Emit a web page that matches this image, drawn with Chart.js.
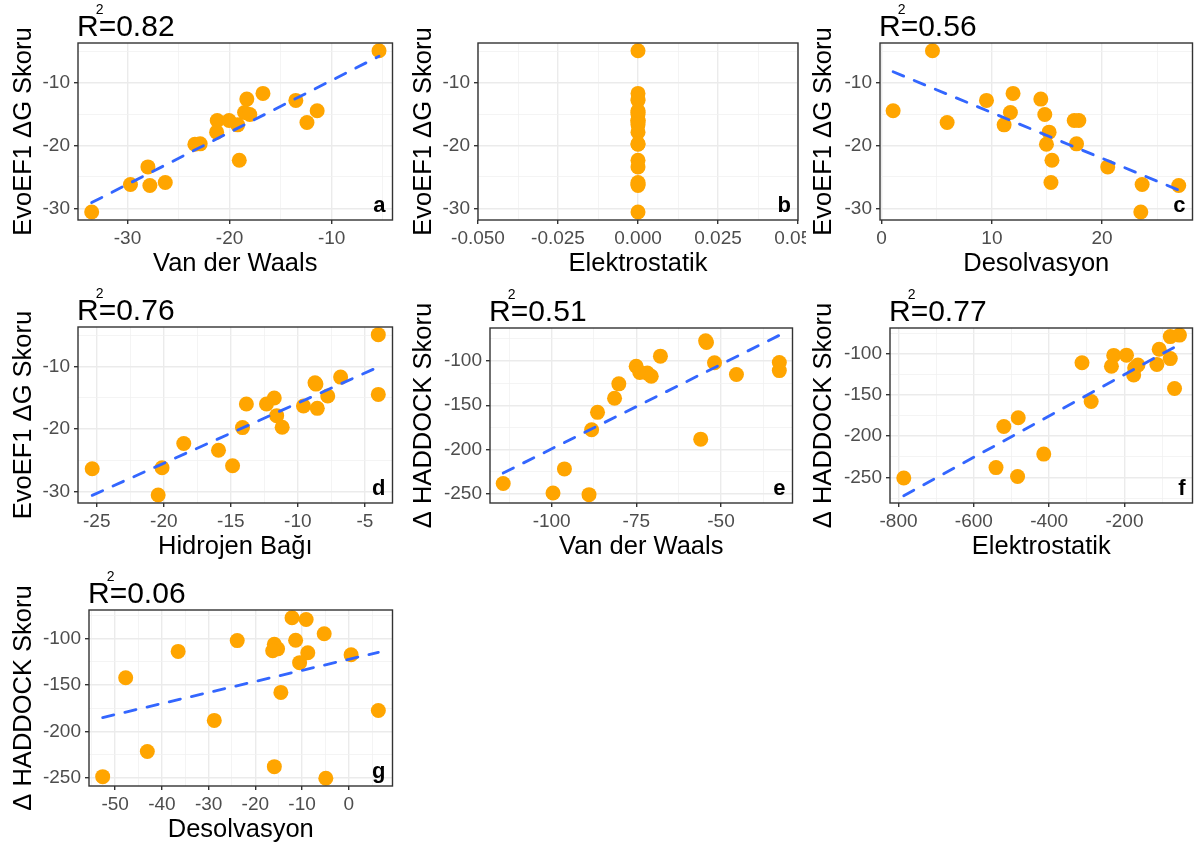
<!DOCTYPE html>
<html><head><meta charset="utf-8">
<script src="https://cdn.jsdelivr.net/npm/chart.js@4.4.0/dist/chart.umd.min.js"></script>
<style>
html,body{margin:0;padding:0;background:#fff;width:1200px;height:845px;overflow:hidden;}
canvas{position:absolute;display:block;}
</style></head><body>
<script>
// ---------------- DATA ----------------
// EvoEF1 ΔG scores (20 complexes) and their energy components
const evoScore  = [-4.83, -11.65, -12.56, -12.77, -14.43, -14.69, -15.01, -15.97, -15.97, -16.29, -16.67, -17.84, -19.76, -19.71, -22.32, -23.39, -26.21, -26.37, -25.89, -30.59];
const evoVdw    = [-5.36, -16.73, -18.31, -13.51, -11.42, -18.53, -18.02, -21.21, -20.05, -12.42, -19.21, -21.27, -23.40, -22.88, -19.05, -28.00, -29.71, -27.81, -26.30, -33.51];
const evoElec   = [0, 0, 0, 0, 0, 0, 0, 0, 0, 0, 0, 0, 0, 0, 0, 0, 0, 0, 0, 0];
const evoDesolv = [4.61, 11.92, 14.44, 9.51, 1.04, 11.68, 14.80, 17.47, 17.89, 5.94, 11.11, 15.19, 14.95, 17.68, 15.45, 20.51, 23.63, 26.95, 15.36, 23.51];
const evoHbond  = [-4.0, -6.81, -8.72, -8.65, -4.0, -7.77, -11.76, -12.34, -13.84, -9.58, -8.55, -11.58, -14.13, -11.17, -18.51, -15.92, -20.13, -25.34, -14.87, -20.42];

// HADDOCK scores (20 complexes) and their energy components
const hadScore  = [-77.5, -79.3, -94.7, -102.1, -101.8, -106.0, -111.0, -113.0, -113.8, -115.3, -117.4, -125.9, -142.2, -158.0, -177.6, -188.2, -221.7, -238.1, -248.9, -250.7];
const hadVdw    = [-54.55, -54.3, -67.89, -51.93, -32.79, -75.05, -32.79, -73.98, -71.76, -45.45, -70.6, -80.17, -81.43, -86.46, -88.2, -56.0, -96.23, -114.3, -99.6, -88.97];
const hadElec   = [-54.0, -78.4, -107.9, -228.6, -194.7, -78.4, -312.8, -114.0, -164.3, -234.7, -173.0, -175.6, -67.1, -288.5, -482.2, -520.4, -414.4, -541.2, -483.9, -786.1];
const hadDesolv = [-12.15, -9.13, -5.27, -23.88, -11.38, -15.94, -15.24, -16.29, -36.52, -8.78, 0.49, -10.53, -47.75, -14.54, 6.32, -28.79, -43.12, -15.94, -52.67, -4.92];

// R² labels per panel (panel b has none)
const r2Labels = ['0.82', null, '0.56', '0.76', '0.51', '0.77', '0.06'];
const panelLetters = ['a', 'b', 'c', 'd', 'e', 'f', 'g'];

// tick labels
const evoScoreTicks = ['-30', '-20', '-10'];
const hadScoreTicks = ['-250', '-200', '-150', '-100'];
const aXTicks = ['-30', '-20', '-10'];
const bXTicks = ['-0.050', '-0.025', '0.000', '0.025', '0.050'];
const cXTicks = ['0', '10', '20'];
const dXTicks = ['-25', '-20', '-15', '-10', '-5'];
const eXTicks = ['-100', '-75', '-50'];
const fXTicks = ['-800', '-600', '-400', '-200'];
const gXTicks = ['-50', '-40', '-30', '-20', '-10', '0'];

// axis titles
const titleVdw = 'Van der Waals', titleElec = 'Elektrostatik', titleDesolv = 'Desolvasyon', titleHb = 'Hidrojen Bağı';
const titleEvo = 'EvoEF1 ΔG Skoru', titleHad = 'Δ HADDOCK Skoru';

// ---------------- LAYOUT / STYLE ----------------
const FONT = '"Liberation Sans", Arial, Helvetica, sans-serif';
Chart.defaults.font.family = FONT;

const panels = [
  {xs: evoVdw,    ys: evoScore, xT: titleVdw,    yT: titleEvo, xTicks: aXTicks, yTicks: evoScoreTicks, xr: [-34.85, -4.04], yr: [-31.87, -3.6],
   cv: [0, 0, 400, 282],   yW: 78, padT: 43, padR: 3, xH: 62, yTitlePad: 8.2},
  {xs: evoElec,   ys: evoScore, xT: titleElec,   yT: titleEvo, xTicks: bXTicks, yTicks: evoScoreTicks, xr: [-0.05, 0.05], yr: [-31.87, -3.6],
   cv: [400, 0, 406, 282], yW: 78, padT: 43, padR: 8, xH: 62, yTitlePad: 8.2},
  {xs: evoDesolv, ys: evoScore, xT: titleDesolv, yT: titleEvo, xTicks: cXTicks, yTicks: evoScoreTicks, xr: [-0.15, 28.2], yr: [-31.87, -3.6],
   cv: [806, 0, 394, 282], yW: 74, padT: 43, padR: 2, xH: 62, yTitlePad: 2.2},
  {xs: evoHbond,  ys: evoScore, xT: titleHb,     yT: titleEvo, xTicks: dXTicks, yTicks: evoScoreTicks, xr: [-26.4, -2.94], yr: [-31.87, -3.6],
   cv: [0, 282, 400, 282], yW: 78, padT: 45, padR: 3, xH: 61, yTitlePad: 8.2},
  {xs: hadVdw,    ys: hadScore, xT: titleVdw,    yT: titleHad, xTicks: eXTicks, yTicks: hadScoreTicks, xr: [-118.2, -28.9], yr: [-260.1, -63],
   cv: [400, 282, 400, 282], yW: 90, padT: 46, padR: 2, xH: 61, yTitlePad: 8.2},
  {xs: hadElec,   ys: hadScore, xT: titleElec,   yT: titleHad, xTicks: fXTicks, yTicks: hadScoreTicks, xr: [-822.7, -19.4], yr: [-281, -68.9],
   cv: [800, 282, 400, 282], yW: 90, padT: 46, padR: 2, xH: 61, yTitlePad: 8.2},
  {xs: hadDesolv, ys: hadScore, xT: titleDesolv, yT: titleHad, xTicks: gXTicks, yTicks: hadScoreTicks, xr: [-55.6, 9.35], yr: [-259, -69.1],
   cv: [0, 564, 400, 281], yW: 89, padT: 46, padR: 2, xH: 59, yTitlePad: 8.2}
];

function buildTicks(labels, min, max) {
  const vals = labels.map(Number);
  const step = vals[1] - vals[0];
  const out = [];
  vals.forEach((v, i) => { if (v >= min - 1e-9 && v <= max + 1e-9) out.push({value: v, txt: labels[i], minor: false}); });
  for (let i = -1; i < vals.length; i++) {
    const m = vals[0] + (i + 0.5) * step;
    if (m > min && m < max) out.push({value: m, txt: '', minor: true});
  }
  out.sort((p, q) => p.value - q.value);
  return out;
}

function lmLine(xs, ys) {
  const n = xs.length;
  const mx = xs.reduce((s, v) => s + v, 0) / n;
  const my = ys.reduce((s, v) => s + v, 0) / n;
  let sxy = 0, sxx = 0;
  for (let i = 0; i < n; i++) { sxy += (xs[i] - mx) * (ys[i] - my); sxx += (xs[i] - mx) ** 2; }
  if (sxx === 0) return null;
  const b = sxy / sxx, a = my - b * mx;
  const x0 = Math.min(...xs), x1 = Math.max(...xs);
  return [{x: x0, y: a + b * x0}, {x: x1, y: a + b * x1}];
}

const decor = {
  id: 'decor',
  afterDatasetsDraw(chart, args, opts) {
    const {ctx, chartArea: a} = chart;
    ctx.save();
    ctx.strokeStyle = '#333333';
    ctx.lineWidth = 1.4;
    ctx.strokeRect(a.left, a.top, a.right - a.left, a.bottom - a.top);
    ctx.fillStyle = '#000';
    ctx.font = 'bold 22px ' + FONT;
    ctx.textAlign = 'right';
    ctx.textBaseline = 'alphabetic';
    ctx.fillText(opts.letter, a.right - 7, a.bottom - 8);
    if (opts.r2) {
      ctx.textAlign = 'left';
      ctx.font = '30px ' + FONT;
      const x0 = a.left - 1, y0 = a.top - 7;
      ctx.fillText('R', x0, y0);
      const rw = ctx.measureText('R').width;
      ctx.fillText('=' + opts.r2, x0 + rw, y0);
      ctx.font = '14px ' + FONT;
      ctx.fillText('2', x0 + rw - 3, y0 - 22);
    }
    ctx.restore();
  }
};

function axis(p, isX) {
  const ticks = isX ? p.xTicks : p.yTicks;
  const r = isX ? p.xr : p.yr;
  return {
    type: 'linear', position: isX ? 'bottom' : 'left', min: r[0], max: r[1],
    afterBuildTicks: s => { s.ticks = buildTicks(ticks, r[0], r[1]); },
    afterFit: s => {
      if (isX) s.height = p.xH; else s.width = p.yW;
      s.paddingLeft = 0; s.paddingRight = 0; s.paddingTop = 0; s.paddingBottom = 0;
    },
    ticks: {
      autoSkip: false, maxRotation: 0, minRotation: 0, color: '#4D4D4D',
      font: {size: 19}, padding: isX ? 3.5 : 4,
      callback: (v, i, t) => (t[i] && !t[i].minor) ? t[i].txt : ''
    },
    grid: {
      color: c => (c.tick && c.tick.minor) ? '#F1F1F1' : '#EBEBEB',
      lineWidth: c => (c.tick && c.tick.minor) ? 0.8 : 1.4,
      drawTicks: true, tickLength: 4,
      tickColor: c => (c.tick && c.tick.minor) ? 'rgba(0,0,0,0)' : '#333333',
      tickWidth: 1.4
    },
    border: {display: false},
    title: {
      display: true, text: isX ? p.xT : p.yT, color: '#000', font: {size: 25.5},
      padding: isX ? {top: 0, bottom: p.xH - 59.2} : {top: p.yTitlePad, bottom: 0}
    }
  };
}

panels.forEach((p, idx) => {
  const cv = document.createElement('canvas');
  cv.width = p.cv[2]; cv.height = p.cv[3];
  cv.style.left = p.cv[0] + 'px'; cv.style.top = p.cv[1] + 'px';
  cv.style.width = p.cv[2] + 'px'; cv.style.height = p.cv[3] + 'px';
  document.body.appendChild(cv);
  const pts = p.xs.map((x, i) => ({x: x, y: p.ys[i]}));
  const datasets = [{
    type: 'scatter', data: pts, backgroundColor: '#FFA500', borderWidth: 0,
    pointRadius: 7.5, pointHoverRadius: 7.5, order: 1
  }];
  const line = lmLine(p.xs, p.ys);
  if (line) datasets.push({
    type: 'line', data: line, borderColor: '#3366FF', borderWidth: 2.85,
    borderDash: [11.4, 11.4], borderCapStyle: 'round', pointRadius: 0, fill: false, tension: 0, order: 0
  });
  new Chart(cv, {
    type: 'scatter',
    data: {datasets},
    options: {
      responsive: false, animation: false, events: [],
      layout: {padding: {top: p.padT, right: p.padR, left: 0, bottom: 0}},
      plugins: {legend: {display: false}, title: {display: false}, tooltip: {enabled: false},
                decor: {letter: panelLetters[idx], r2: r2Labels[idx]}},
      scales: {x: axis(p, true), y: axis(p, false)}
    },
    plugins: [decor]
  });
});
</script>
</body></html>
